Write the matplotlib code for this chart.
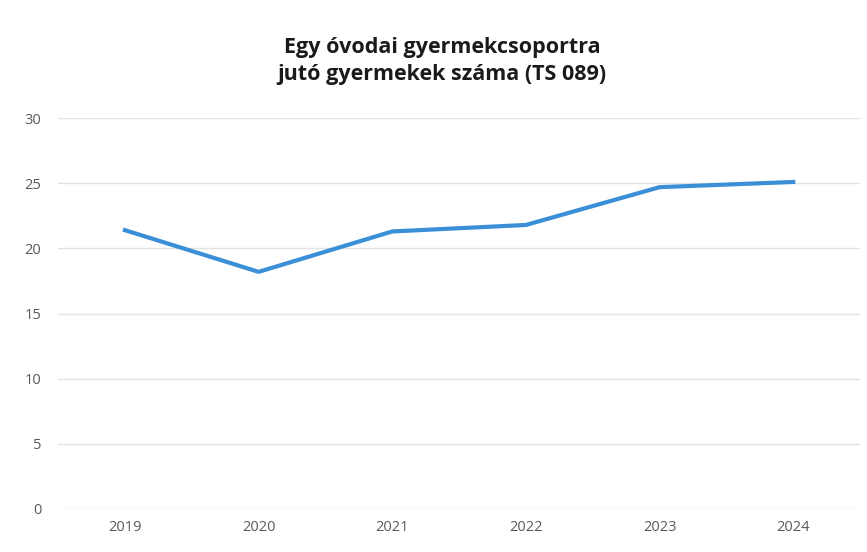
import matplotlib.pyplot as plt

years = ['2019', '2020', '2021', '2022', '2023', '2024']
gyermek = [21.4, 18.2, 21.3, 21.8, 24.7, 25.1]
y_ticks = [0, 5, 10, 15, 20, 25, 30]

plt.rcParams['font.family'] = ['Open Sans', 'DejaVu Sans']

fig = plt.figure(figsize=(8.67, 5.52), dpi=100)
ax = fig.add_axes([0.067, 0.078, 0.925, 0.708])

x = range(len(years))
ax.plot(x, gyermek, color='#3a8fd6', linewidth=3, solid_joinstyle='round')

ax.set_xlim(-0.5, len(years) - 0.5)
ax.set_ylim(0, 30)
ax.set_xticks(list(x))
ax.set_xticklabels(years)
ax.set_yticks(y_ticks)
ax.grid(axis='y', color='#e3e3e3', linewidth=1)
ax.set_axisbelow(True)
for s in ax.spines.values():
    s.set_visible(False)
ax.tick_params(length=0, colors='#595959', labelsize=10.5, pad=12)
ax.tick_params(axis='x', pad=8)

fig.text(0.51, 0.89, 'Egy óvodai gyermekcsoportra\njutó gyermekek száma (TS 089)',
         ha='center', va='center', fontsize=15.5, fontweight='bold',
         color='#1a1a1a', linespacing=1.4)

fig.savefig('out.png', dpi=100, facecolor='white')
